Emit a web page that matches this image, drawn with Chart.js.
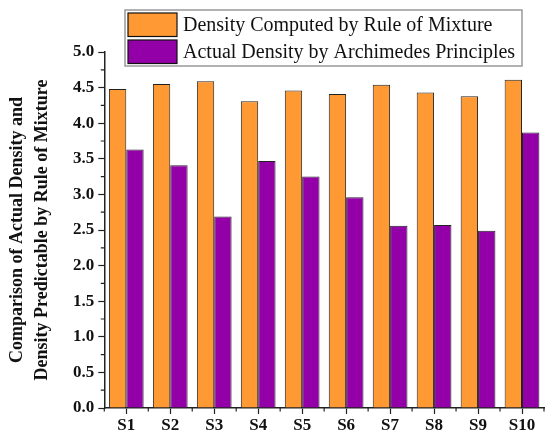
<!DOCTYPE html>
<html>
<head>
<meta charset="utf-8">
<script src="https://cdn.jsdelivr.net/npm/chart.js@4.4.1/dist/chart.umd.min.js"></script>
<style>
  html, body { margin: 0; padding: 0; background: #fff; }
  #wrap { width: 550px; height: 437px; }
</style>
</head>
<body>
<div id="wrap"><canvas id="myChartDensity"></canvas></div>
<script>
// Data
const samples = ["S1", "S2", "S3", "S4", "S5", "S6", "S7", "S8", "S9", "S10"];
const ruleOfMixture = [4.48, 4.55, 4.59, 4.31, 4.46, 4.41, 4.54, 4.43, 4.38, 4.61];
const archimedes = [3.63, 3.41, 2.69, 3.47, 3.25, 2.96, 2.56, 2.57, 2.49, 3.87];
const seriesNames = [
  "Density Computed by Rule of Mixture",
  "Actual Density by Archimedes Principles",
];
const yTicks = [0, 0.5, 1, 1.5, 2, 2.5, 3, 3.5, 4, 4.5, 5];

const serif = "'Liberation Serif', 'Times New Roman', serif";
const axisColor = "#222";

// Short minor ticks between the major ones (as in the original plot)
const minorTicks = {
  id: "minorTicks",
  afterDraw(chart) {
    const ctx = chart.ctx;
    const x = chart.scales.x;
    const y = chart.scales.y;
    ctx.save();
    ctx.strokeStyle = axisColor;
    ctx.lineWidth = 1.2;
    ctx.beginPath();
    for (let i = 0; i < yTicks.length - 1; i++) {
      const py = y.getPixelForValue((yTicks[i] + yTicks[i + 1]) / 2);
      ctx.moveTo(x.left, py);
      ctx.lineTo(x.left - 3.5, py);
    }
    for (let i = 0; i <= samples.length; i++) {
      const px = x.getPixelForValue(i - 0.5);
      ctx.moveTo(px, y.bottom);
      ctx.lineTo(px, y.bottom + 3.5);
    }
    ctx.stroke();
    ctx.restore();
  },
};

// Boxed legend sitting over the top of the plot
const boxLegend = {
  id: "boxLegend",
  afterDraw(chart) {
    const ctx = chart.ctx;
    const boxX = 125, boxY = 10, boxW = 397, boxH = 56;
    const swW = 49, swH = 23.5, rowH = 27;
    ctx.save();
    ctx.fillStyle = "#fff";
    ctx.fillRect(boxX, boxY, boxW, boxH);
    ctx.strokeStyle = "#999";
    ctx.lineWidth = 1.5;
    ctx.strokeRect(boxX, boxY, boxW, boxH);
    ctx.font = "20px " + serif;
    ctx.textBaseline = "middle";
    chart.data.datasets.forEach((ds, i) => {
      const sy = boxY + 3 + i * rowH;
      ctx.fillStyle = ds.backgroundColor;
      ctx.fillRect(boxX + 3, sy, swW, swH);
      ctx.strokeStyle = "#111";
      ctx.lineWidth = 1.2;
      ctx.strokeRect(boxX + 3, sy, swW, swH);
      ctx.fillStyle = "#111";
      ctx.fillText(ds.label, boxX + swW + 9, sy + swH / 2 + 1);
    });
    ctx.restore();
  },
};

const ctx = document.getElementById("myChartDensity").getContext("2d");
new Chart(ctx, {
  type: "bar",
  data: {
    labels: samples,
    datasets: [
      {
        label: seriesNames[0],
        data: ruleOfMixture,
        backgroundColor: "#FF9933",
        borderColor: "#222",
        borderWidth: 1,
      },
      {
        label: seriesNames[1],
        data: archimedes,
        backgroundColor: "#9300A8",
        borderColor: "#222",
        borderWidth: 1,
      },
    ],
  },
  options: {
    responsive: true,
    maintainAspectRatio: false,
    animation: false,
    layout: {
      padding: { left: 0, right: 6, top: 52, bottom: 0 },
    },
    datasets: {
      bar: {
        categoryPercentage: 0.79,
        barPercentage: 1.0,
      },
    },
    plugins: {
      legend: { display: false },
      tooltip: { enabled: false },
    },
    scales: {
      x: {
        offset: true,
        grid: {
          offset: false,
          drawOnChartArea: false,
          drawTicks: true,
          tickLength: 6,
          tickWidth: 1.2,
          tickColor: axisColor,
        },
        border: { display: true, color: axisColor, width: 1.5 },
        ticks: {
          color: "#111",
          padding: 3,
          font: { family: serif, size: 17, weight: "bold", lineHeight: 1.0 },
        },
      },
      y: {
        min: 0,
        max: 5,
        afterBuildTicks: (scale) => {
          scale.ticks = yTicks.map((v) => ({ value: v }));
        },
        grid: {
          drawOnChartArea: false,
          drawTicks: true,
          tickLength: 6,
          tickWidth: 1.2,
          tickColor: axisColor,
        },
        border: { display: true, color: axisColor, width: 1.5 },
        ticks: {
          color: "#111",
          padding: 4,
          font: { family: serif, size: 17, weight: "bold" },
          callback: (v) => Number(v).toFixed(1),
        },
        title: {
          display: true,
          text: [
            "Comparison of Actual Density and",
            "Density Predictable by Rule of Mixture",
          ],
          color: "#111",
          padding: { top: 5, bottom: 14 },
          font: { family: serif, size: 18, weight: "bold", lineHeight: 1.39 },
        },
      },
    },
  },
  plugins: [minorTicks, boxLegend],
});
</script>
</body>
</html>
